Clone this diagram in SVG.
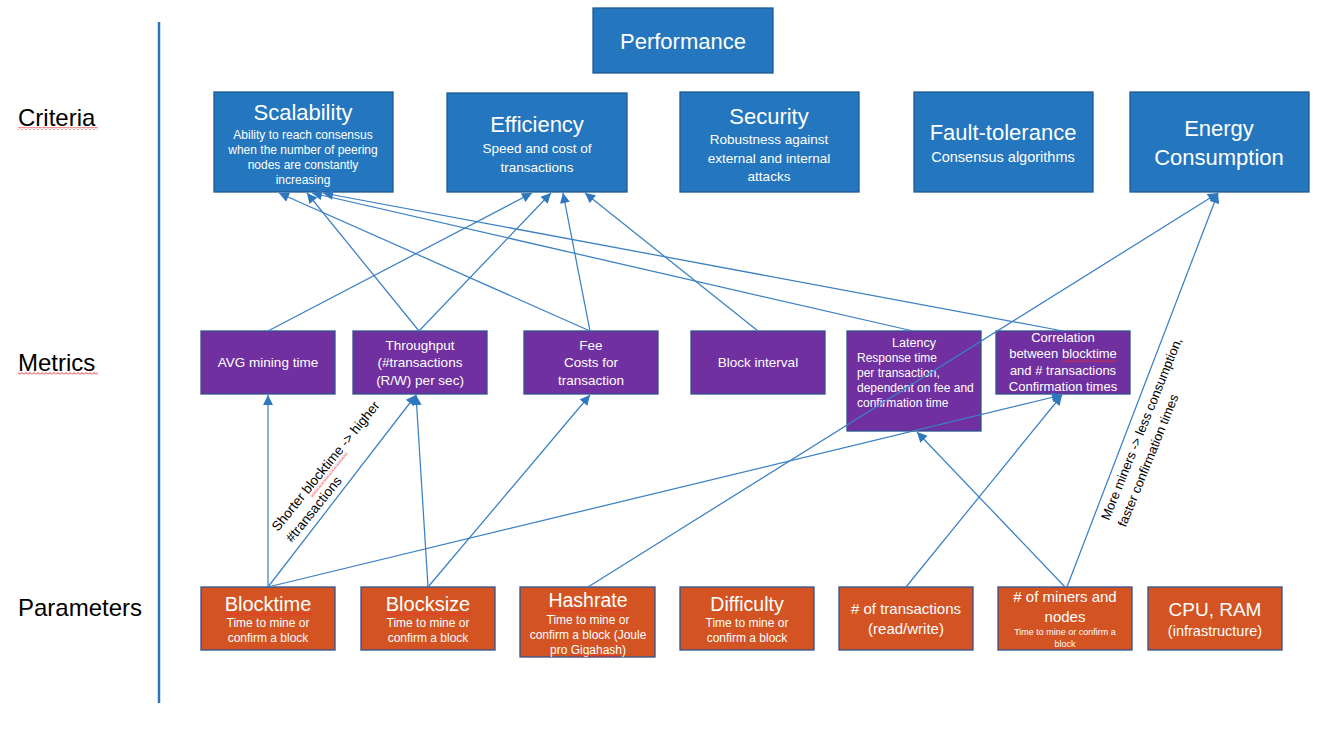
<svg xmlns="http://www.w3.org/2000/svg" width="1317" height="732" viewBox="0 0 1317 732">
<style>
text{font-family:"Liberation Sans",Arial,sans-serif;}
.crit{fill:#2476BE;stroke:#1F5A93;stroke-width:1.3;}
.met{fill:#7030A0;stroke:#2F528F;stroke-width:1.3;}
.par{fill:#D35322;stroke:#2F528F;stroke-width:1.3;}
.w{fill:#fff;text-anchor:middle;}
.wl{fill:#fff;}
.t22{font-size:22px;}
.row{font-size:24px;fill:#000;}
.conn line{stroke:#3A80C5;stroke-width:1.25;marker-end:url(#arr);}
.lbl{font-size:13.5px;fill:#000;}
.sq{fill:url(#zig);}
</style>
<defs>
<marker id="arr" viewBox="0 0 10 10" refX="10" refY="5" markerWidth="11" markerHeight="10" markerUnits="userSpaceOnUse" orient="auto">
<path d="M0,0 L10,5 L0,10 z" fill="#2E78C0"/>
</marker>
<pattern id="zig" width="4" height="3" patternUnits="userSpaceOnUse">
<path d="M0,2.5 L2,0.5 L4,2.5" fill="none" stroke="#F0282D" stroke-width="1"/>
</pattern>
</defs>
<rect width="1317" height="732" fill="#fff"/>

<line x1="159" y1="22" x2="159" y2="703" stroke="#2E75B6" stroke-width="2.5"/>

<g id="row-labels">
<text class="row" x="18" y="126">Criteria</text>
<rect class="sq" x="18" y="127" width="80" height="3"/>
<text class="row" x="18" y="371">Metrics</text>
<rect class="sq" x="18" y="372" width="80" height="3"/>
<text class="row" x="18" y="616">Parameters</text>
</g>

<g id="performance">
<rect class="crit" x="593" y="8" width="180" height="65"/>
<text class="w t22" x="683" y="49">Performance</text>
</g>

<g id="scalability">
<rect class="crit" x="214" y="92" width="179" height="100"/>
<text class="w t22" x="303" y="120">Scalability</text>
<text class="w" font-size="12" x="303" y="139">Ability to reach consensus</text>
<text class="w" font-size="12" x="303" y="154">when the number of peering</text>
<text class="w" font-size="12" x="303" y="169">nodes are constantly</text>
<text class="w" font-size="12" x="303" y="184">increasing</text>
</g>
<g id="efficiency">
<rect class="crit" x="447" y="93" width="180" height="99"/>
<text class="w t22" x="537" y="132">Efficiency</text>
<text class="w" font-size="13.5" x="537" y="153">Speed and cost of</text>
<text class="w" font-size="13.5" x="537" y="172">transactions</text>
</g>
<g id="security">
<rect class="crit" x="680" y="92" width="179" height="100"/>
<text class="w t22" x="769" y="124">Security</text>
<text class="w" font-size="13.5" x="769" y="144">Robustness against</text>
<text class="w" font-size="13.5" x="769" y="163">external and internal</text>
<text class="w" font-size="13.5" x="769" y="181">attacks</text>
</g>
<g id="fault-tolerance">
<rect class="crit" x="914" y="92" width="179" height="100"/>
<text class="w t22" x="1003" y="140">Fault-tolerance</text>
<text class="w" font-size="14.5" x="1003" y="162">Consensus algorithms</text>
</g>
<g id="energy">
<rect class="crit" x="1130" y="92" width="179" height="100"/>
<text class="w t22" x="1219" y="136">Energy</text>
<text class="w t22" x="1219" y="165">Consumption</text>
</g>

<g id="avg-mining-time">
<rect class="met" x="201" y="331" width="134" height="63"/>
<text class="w" font-size="13.5" x="268" y="367">AVG mining time</text>
</g>
<g id="throughput">
<rect class="met" x="353" y="331" width="134" height="63"/>
<text class="w" font-size="13.5" x="420" y="350">Throughput</text>
<text class="w" font-size="13.5" x="420" y="367">(#transactions</text>
<text class="w" font-size="13.5" x="420" y="385">(R/W) per sec)</text>
</g>
<g id="fee">
<rect class="met" x="524" y="331" width="134" height="63"/>
<text class="w" font-size="13.5" x="591" y="350">Fee</text>
<text class="w" font-size="13.5" x="591" y="367">Costs for</text>
<text class="w" font-size="13.5" x="591" y="385">transaction</text>
</g>
<g id="block-interval">
<rect class="met" x="691" y="331" width="134" height="63"/>
<text class="w" font-size="13.5" x="758" y="367">Block interval</text>
</g>
<g id="latency">
<rect class="met" x="847" y="331" width="134" height="100"/>
<text class="w" font-size="12.5" x="914" y="347">Latency</text>
<text class="wl" font-size="12" x="857" y="362">Response time</text>
<text class="wl" font-size="12" x="857" y="377">per transaction,</text>
<text class="wl" font-size="12" x="857" y="392">dependent on fee and</text>
<text class="wl" font-size="12" x="857" y="407">confirmation time</text>
</g>
<g id="correlation">
<rect class="met" x="996" y="331" width="134" height="63"/>
<text class="w" font-size="13" x="1063" y="342">Correlation</text>
<text class="w" font-size="13" x="1063" y="358">between blocktime</text>
<rect class="sq" x="1062" y="359" width="56" height="3"/>
<text class="w" font-size="13" x="1063" y="375">and # transactions</text>
<text class="w" font-size="13" x="1063" y="391">Confirmation times</text>
</g>

<g id="blocktime">
<rect class="par" x="201" y="587" width="134" height="63"/>
<text class="w" font-size="20" x="268" y="611">Blocktime</text>
<rect class="sq" x="224" y="613" width="88" height="3"/>
<text class="w" font-size="12" x="268" y="627">Time to mine or</text>
<text class="w" font-size="12" x="268" y="642">confirm a block</text>
</g>
<g id="blocksize">
<rect class="par" x="361" y="587" width="134" height="63"/>
<text class="w" font-size="20" x="428" y="611">Blocksize</text>
<rect class="sq" x="387" y="613" width="84" height="3"/>
<text class="w" font-size="12" x="428" y="627">Time to mine or</text>
<text class="w" font-size="12" x="428" y="642">confirm a block</text>
</g>
<g id="hashrate">
<rect class="par" x="520" y="587" width="135" height="70"/>
<text class="w" font-size="19.5" x="588" y="607">Hashrate</text>
<rect class="sq" x="547" y="609" width="80" height="3"/>
<text class="w" font-size="12" x="588" y="624">Time to mine or</text>
<text class="w" font-size="12" x="588" y="639">confirm a block (Joule</text>
<text class="w" font-size="12" x="588" y="654">pro Gigahash)</text>
<rect class="sq" x="573" y="655" width="48" height="3"/>
</g>
<g id="difficulty">
<rect class="par" x="680" y="587" width="134" height="63"/>
<text class="w" font-size="19.5" x="747" y="611">Difficulty</text>
<text class="w" font-size="12" x="747" y="627">Time to mine or</text>
<text class="w" font-size="12" x="747" y="642">confirm a block</text>
</g>
<g id="num-transactions">
<rect class="par" x="839" y="587" width="134" height="63"/>
<text class="w" font-size="15" x="906" y="614">#&#160;of transactions</text>
<text class="w" font-size="15" x="906" y="634">(read/write)</text>
</g>
<g id="num-miners">
<rect class="par" x="998" y="587" width="134" height="63"/>
<text class="w" font-size="15" x="1065" y="602">#&#160;of miners and</text>
<text class="w" font-size="15" x="1065" y="622">nodes</text>
<text class="w" font-size="9" x="1065" y="635">Time to mine or confirm a</text>
<text class="w" font-size="9" x="1065" y="647">block</text>
</g>
<g id="cpu-ram">
<rect class="par" x="1148" y="587" width="134" height="63"/>
<text class="w" font-size="19" x="1215" y="616">CPU, RAM</text>
<text class="w" font-size="14.5" x="1215" y="636">(infrastructure)</text>
</g>

<g class="conn" id="connectors">
<line x1="268" y1="331" x2="532" y2="193"/>
<line x1="419" y1="331" x2="307" y2="193"/>
<line x1="419" y1="331" x2="551" y2="193"/>
<line x1="590" y1="331" x2="279" y2="193"/>
<line x1="590" y1="331" x2="563" y2="193"/>
<line x1="758" y1="331" x2="585" y2="193"/>
<line x1="913" y1="331" x2="312" y2="193"/>
<line x1="1063" y1="331" x2="323" y2="193"/>
<line x1="588" y1="587" x2="1218" y2="193"/>
<line x1="1067" y1="587" x2="1218" y2="193"/>
<line x1="268" y1="587" x2="268" y2="395"/>
<line x1="268" y1="587" x2="416" y2="395"/>
<line x1="428" y1="587" x2="416" y2="395"/>
<line x1="428" y1="587" x2="590" y2="395"/>
<line x1="268" y1="587" x2="1062" y2="395"/>
<line x1="906" y1="587" x2="1062" y2="395"/>
<line x1="1065" y1="587" x2="917" y2="432"/>
</g>

<g id="label-blocktime" transform="translate(278,532) rotate(-51)">
<text class="lbl" x="0" y="0">Shorter blocktime -&gt; higher</text>
<rect class="sq" x="48" y="2" width="57" height="3"/>
<text class="lbl" x="0" y="18">#transactions</text>
</g>
<g id="label-miners" transform="translate(1109,521) rotate(-68)">
<text class="lbl" style="font-size:13px" x="0" y="0">More miners -&gt; less consumption,</text>
<text class="lbl" style="font-size:13px" x="0" y="18">faster confirmation times</text>
</g>
</svg>
